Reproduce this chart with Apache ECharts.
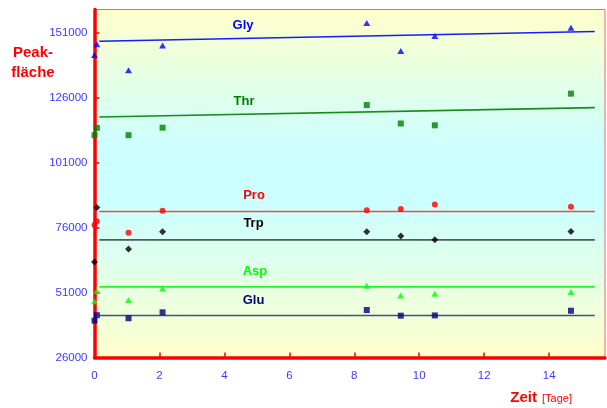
<!DOCTYPE html>
<html>
<head>
<meta charset="utf-8">
<script src="https://cdn.jsdelivr.net/npm/echarts@6/dist/echarts.min.js"></script>
<style>
  html, body { margin: 0; padding: 0; background: #ffffff; }
  #chart { width: 607px; height: 408px; }
</style>
</head>
<body>
<div id="chart"></div>
<script>
// Sampling times in days (two samples taken on day 0)
const days = [0, 0.07, 1, 2, 8, 9, 10, 14];

// Peak areas per amino acid
const gly = [142500, 146600, 136600, 146100, 154800, 144000, 149800, 153000];
const thr = [111600, 114400, 111600, 114500, 123200, 116100, 115400, 127600];
const pro = [77000, 78500, 74000, 82500, 82700, 83200, 84900, 84000];
const trp = [62800, 83800, 67800, 74400, 74400, 72800, 71300, 74500];
const asp = [47700, 51600, 48100, 52600, 53600, 49900, 50500, 51200];
const glu = [40200, 42300, 41100, 43400, 44300, 42100, 42200, 44000];

// Reference lines: start and end value over the trend span
const trendDays = [0.14, 14.7];
const glyTrend = [147800, 151500];
const thrTrend = [118600, 122200];
const proTrend = [82200, 82200];
const trpTrend = [71300, 71300];
const aspTrend = [53200, 53200];
const gluTrend = [42200, 42200];

// Axis tick labels
const xTicks = [0, 2, 4, 6, 8, 10, 12, 14];
const yTicks = [26000, 51000, 76000, 101000, 126000, 151000];

const FONT = 'Liberation Sans, Arial, sans-serif';
const AXIS_RED = '#ff0000';
const TICK_BLUE = '#3a3aff';

function pairs(xs, ys) { return xs.map((x, i) => [x, ys[i]]); }

const groups = [
  { name: 'Gly', values: gly, trend: glyTrend, marker: 'triangle', size: [7, 6], markColor: '#0000ff', lineColor: '#1a1aff' },
  { name: 'Thr', values: thr, trend: thrTrend, marker: 'rect', size: 6, markColor: '#008000', lineColor: '#1a8a1a' },
  { name: 'Pro', values: pro, trend: proTrend, marker: 'circle', size: 6, markColor: '#ff0000', lineColor: '#f04848' },
  { name: 'Trp', values: trp, trend: trpTrend, marker: 'diamond', size: [7, 7], markColor: '#000000', lineColor: '#4f5d59' },
  { name: 'Asp', values: asp, trend: aspTrend, marker: 'triangle', size: [7, 6], markColor: '#00ff00', lineColor: '#2cf02c' },
  { name: 'Glu', values: glu, trend: gluTrend, marker: 'rect', size: 6, markColor: '#000080', lineColor: '#4a4a86' }
];

const series = [];
groups.forEach(g => {
  series.push({
    name: g.name + ' Linie',
    type: 'line',
    xAxisIndex: 1,
    data: pairs(trendDays, g.trend),
    symbol: 'none',
    z: 2,
    lineStyle: { color: g.lineColor, width: 1.6 }
  });
});
groups.forEach(g => {
  series.push({
    name: g.name,
    type: 'scatter',
    xAxisIndex: 1,
    data: pairs(days, g.values),
    symbol: g.marker,
    symbolSize: g.size,
    z: 3,
    itemStyle: { color: g.markColor }
  });
});

// Series names written next to their lines
const nameLabels = [
  { text: 'Gly', x: 243, y: 25, color: '#0000ff' },
  { text: 'Thr', x: 244, y: 101, color: '#008000' },
  { text: 'Pro', x: 254, y: 195.5, color: '#ff0000' },
  { text: 'Trp', x: 253.5, y: 223, color: '#000000' },
  { text: 'Asp', x: 255, y: 271.5, color: '#00ff00' },
  { text: 'Glu', x: 253.5, y: 300, color: '#000080' }
];

const graphic = nameLabels.map(l => ({
  type: 'text',
  x: l.x, y: l.y,
  z: 10,
  style: {
    text: l.text, fill: l.color,
    font: 'bold 13px ' + FONT,
    align: 'center', verticalAlign: 'middle'
  }
}));

graphic.push(
  { type: 'text', x: 33, y: 53, style: { text: 'Peak-', fill: AXIS_RED, font: 'bold 15px ' + FONT, align: 'center', verticalAlign: 'middle' } },
  { type: 'text', x: 33, y: 73, style: { text: 'fläche', fill: AXIS_RED, font: 'bold 15px ' + FONT, align: 'center', verticalAlign: 'middle' } },
  { type: 'text', x: 537, y: 398, style: { text: 'Zeit', fill: AXIS_RED, font: 'bold 15px ' + FONT, align: 'right', verticalAlign: 'middle' } },
  { type: 'text', x: 542, y: 399, style: { text: '[Tage]', fill: AXIS_RED, font: '11px ' + FONT, align: 'left', verticalAlign: 'middle' } }
);

const chart = echarts.init(document.getElementById('chart'), null, { renderer: 'canvas' });
chart.setOption({
  animation: false,
  textStyle: { fontFamily: FONT },
  grid: {
    left: 94.5, right: 2, top: 9.5, bottom: 50.5,
    show: true,
    borderColor: '#ff6060', borderWidth: 1,
    backgroundColor: {
      type: 'linear', x: 0, y: 0, x2: 0, y2: 1,
      colorStops: [
        { offset: 0, color: '#ffffcc' },
        { offset: 0.4, color: '#ccffff' },
        { offset: 0.56, color: '#ccffff' },
        { offset: 1, color: '#ffffcc' }
      ]
    }
  },
  xAxis: [
    {
      type: 'value', min: 0, max: 15.72, position: 'bottom',
      axisLine: { show: true, onZero: false, lineStyle: { color: AXIS_RED, width: 3.5 } },
      axisTick: { show: true, inside: true, length: 5, customValues: xTicks, lineStyle: { color: AXIS_RED, width: 1.5 } },
      axisLabel: { customValues: xTicks, color: TICK_BLUE, fontSize: 11.5, margin: 12, fontFamily: FONT },
      splitLine: { show: false }
    },
    {
      type: 'value', min: 0, max: 15, show: false
    }
  ],
  yAxis: {
    type: 'value', min: 26000, max: 160000,
    axisLine: { show: true, onZero: false, lineStyle: { color: AXIS_RED, width: 3.5 } },
    axisTick: { show: true, inside: true, length: 5, customValues: yTicks, lineStyle: { color: AXIS_RED, width: 1.5 } },
    axisLabel: {
      customValues: yTicks, color: TICK_BLUE, fontSize: 11.5, margin: 7, fontFamily: FONT,
      formatter: v => String(v)
    },
    splitLine: { show: false }
  },
  graphic: graphic,
  series: series
});
</script>
</body>
</html>
